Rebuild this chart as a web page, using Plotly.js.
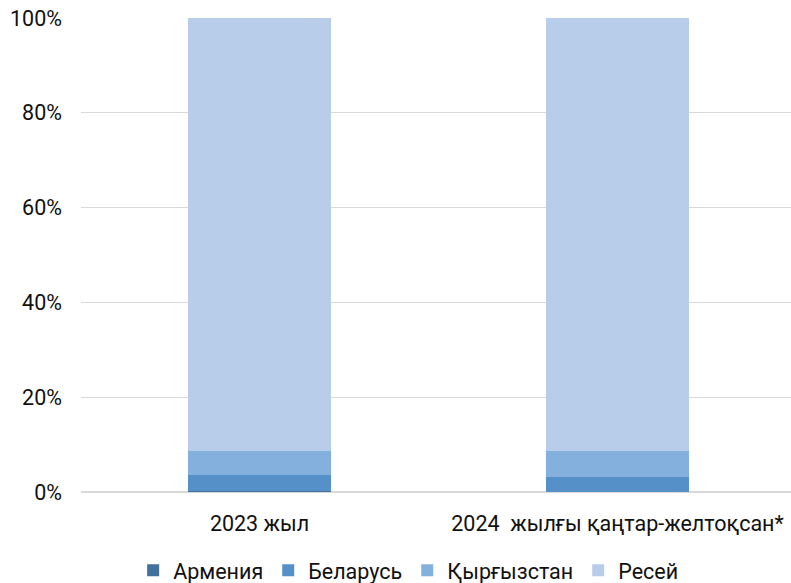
<!DOCTYPE html>
<html>
<head>
<meta charset="utf-8">
<script src="https://cdn.plot.ly/plotly-3.0.1.min.js"></script>
<style>html,body{margin:0;padding:0;background:#fff;}#chart{width:791px;height:583px;}</style>
</head>
<body>
<div id="chart"></div>
<script>
const categories = ["2023 жыл", "2024  жылғы қаңтар-желтоқсан*"];
const seriesNames = ["Армения", "Беларусь", "Қырғызстан", "Ресей"];
const armenia = [0.3, 0.1];
const belarus = [3.2, 3.1];
const kyrgyzstan = [5.2, 5.5];
const russia = [91.3, 91.3];
const yTickVals = [0, 20, 40, 60, 80, 100];
const yTickText = ["0%", "20%", "40%", "60%", "80%", "100%"];
const colors = ["#41719c", "#5591c8", "#84b0dd", "#b8cde9"];

const values = [armenia, belarus, kyrgyzstan, russia];
const traces = values.map((v, i) => ({
  type: "bar",
  name: seriesNames[i],
  x: [0, 1],
  y: v,
  width: 0.4,
  marker: {color: colors[i], line: {width: 0}},
  hoverinfo: "none"
}));

const layout = {
  width: 791,
  height: 583,
  barmode: "stack",
  paper_bgcolor: "#ffffff",
  plot_bgcolor: "#ffffff",
  margin: {l: 81, r: 0, t: 18, b: 91, pad: 0},
  font: {family: "Roboto, sans-serif", size: 21.5, color: "#111111"},
  xaxis: {
    range: [-0.4986, 1.4846],
    tickvals: [0, 1],
    ticktext: categories,
    showgrid: false,
    zeroline: false,
    showline: false,
    ticks: "",
    ticklabelstandoff: 16,
    tickfont: {size: 21.5}
  },
  yaxis: {
    range: [0, 100],
    tickvals: yTickVals,
    ticktext: yTickText,
    showgrid: true,
    gridcolor: "#d9d9d9",
    gridwidth: 1,
    zeroline: true,
    zerolinecolor: "#d9d9d9",
    zerolinewidth: 2,
    showline: false,
    ticks: "",
    ticklabelstandoff: 18,
    tickfont: {size: 21.5}
  },
  legend: {
    orientation: "h",
    xref: "container",
    yref: "container",
    x: 0.516,
    xanchor: "center",
    y: 0.022,
    yanchor: "middle",
    traceorder: "normal",
    itemwidth: 30,
    font: {size: 21.5}
  },
  showlegend: true
};

Plotly.newPlot("chart", traces, layout, {displayModeBar: false, staticPlot: true});
</script>
</body>
</html>
